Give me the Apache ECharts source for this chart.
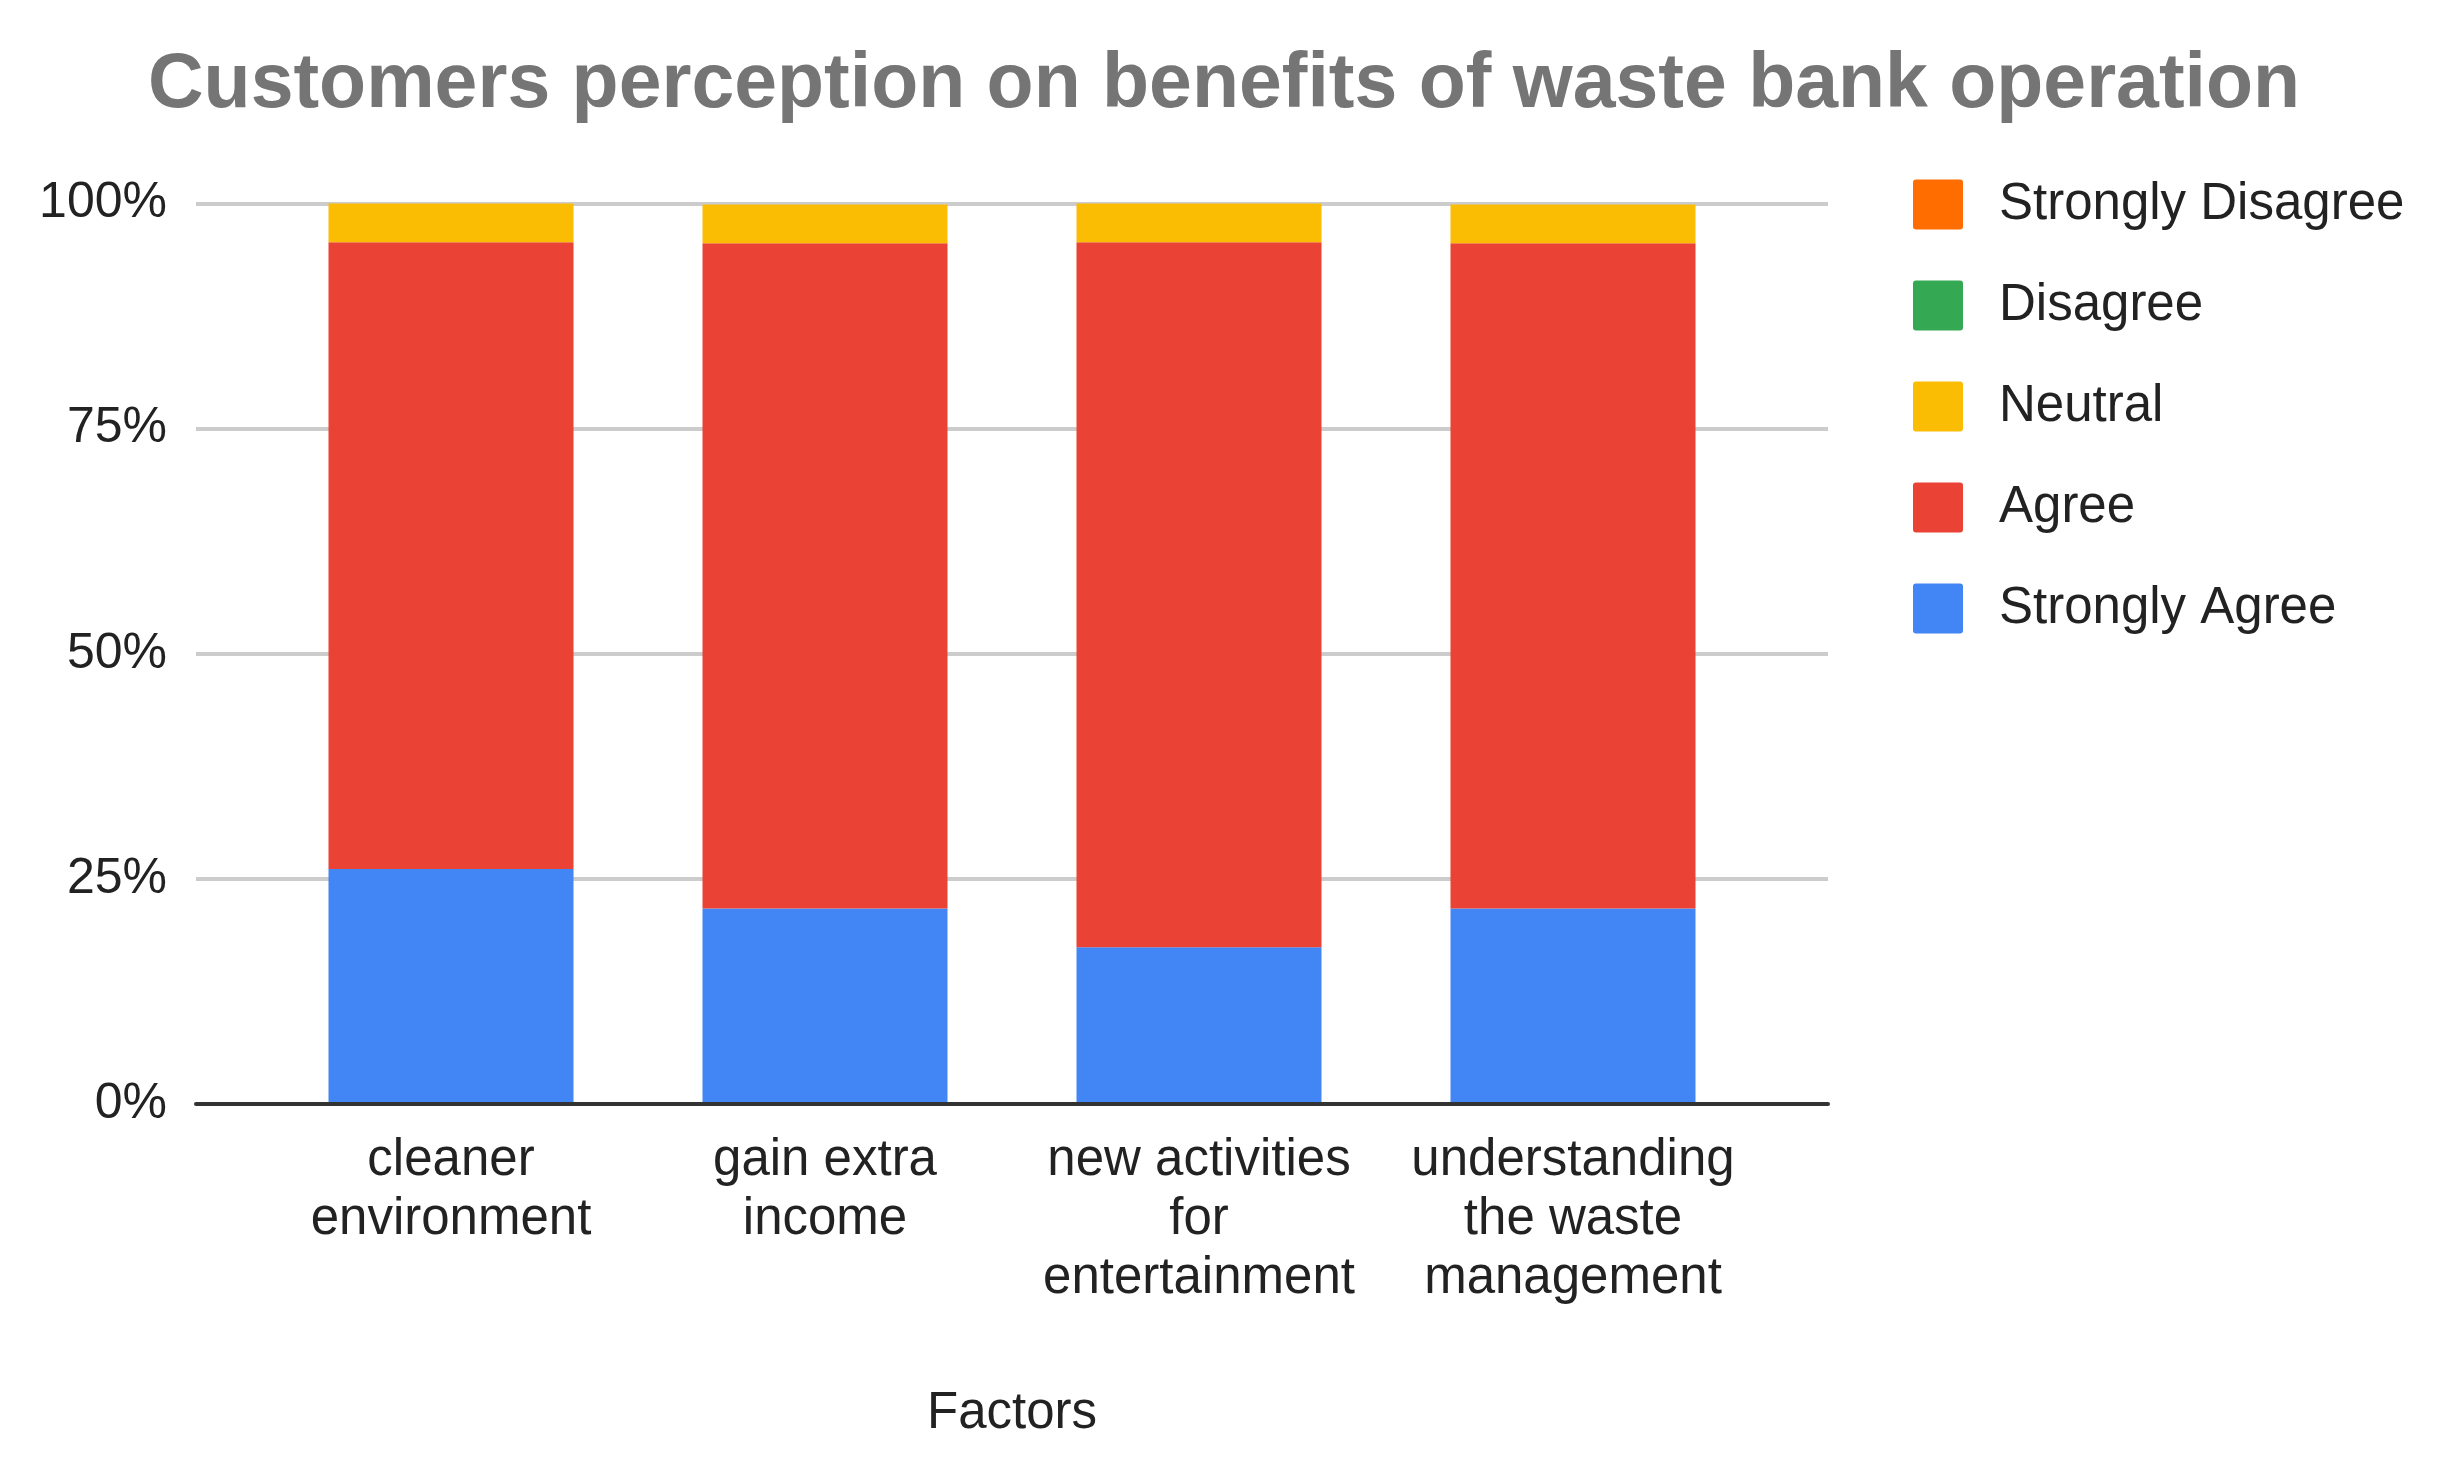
<!DOCTYPE html>
<html>
<head>
<meta charset="utf-8">
<script src="https://cdn.jsdelivr.net/npm/echarts@6/dist/echarts.min.js"></script>
<style>
html,body{margin:0;padding:0;background:#fff;}
#chart{width:2441px;height:1464px;}
</style>
</head>
<body>
<div id="chart"></div>
<script>
const titleText = 'Customers perception on benefits of waste bank operation';
const categories = ['cleaner\nenvironment', 'gain extra\nincome', 'new activities\nfor\nentertainment', 'understanding\nthe waste\nmanagement'];
const axisName = 'Factors';
const yTicks = [0, 25, 50, 75, 100];
// percentages
const stronglyAgree    = [26.1, 21.7, 17.4, 21.7];
const agree            = [69.6, 73.9, 78.3, 73.9];
const neutral          = [4.3, 4.3, 4.3, 4.3];
const disagree         = [0, 0, 0, 0];
const stronglyDisagree = [0, 0, 0, 0];

const seriesNames = ['Strongly Agree', 'Agree', 'Neutral', 'Disagree', 'Strongly Disagree'];
const seriesValues = [stronglyAgree, agree, neutral, disagree, stronglyDisagree];
const colors = ['#4285F4', '#EA4335', '#FBBC04', '#34A853', '#FF6D01'];
const legendOrder = ['Strongly Disagree', 'Disagree', 'Neutral', 'Agree', 'Strongly Agree'];

const FONT = "'Liberation Sans', Arial, sans-serif";
const chart = echarts.init(document.getElementById('chart'), null, {renderer: 'canvas'});

const option = {
  animation: false,
  backgroundColor: '#ffffff',
  title: {
    text: titleText,
    left: 148,
    top: 47,
    padding: 0,
    textStyle: {fontFamily: FONT, fontSize: 77, fontWeight: 'bold', color: '#757575'}
  },
  legend: {
    orient: 'vertical',
    left: 1913,
    top: 179,
    padding: 0,
    itemWidth: 50,
    itemHeight: 50,
    itemGap: 50,
    icon: 'path://M3,0 H47 Q50,0 50,3 V47 Q50,50 47,50 H3 Q0,50 0,47 V3 Q0,0 3,0 Z',
    data: legendOrder,
    textStyle: {fontFamily: FONT, fontSize: 51, color: '#222222', padding: [0, 0, 0, 31]}
  },
  grid: [
    {left: 196, right: 613, top: 203.6, bottom: 360, containLabel: false},
    {left: 264, right: 681, top: 203.6, bottom: 360, containLabel: false}
  ],
  xAxis: [
    {
      type: 'category', gridIndex: 0, data: [''], z: 10,
      axisLine: {show: true, lineStyle: {color: '#333333', width: 4}},
      axisTick: {show: false}, axisLabel: {show: false}, splitLine: {show: false},
      name: axisName, nameLocation: 'middle', nameGap: 284,
      nameTextStyle: {fontFamily: FONT, fontSize: 51, color: '#222222'}
    },
    {
      type: 'category', gridIndex: 1, data: categories,
      axisLine: {show: false}, axisTick: {show: false}, splitLine: {show: false},
      axisLabel: {fontFamily: FONT, fontSize: 51, color: '#222222', lineHeight: 59, margin: 27, interval: 0}
    }
  ],
  yAxis: [
    {
      type: 'value', gridIndex: 0, min: yTicks[0], max: yTicks[yTicks.length - 1], interval: 25,
      axisLine: {show: false}, axisTick: {show: false},
      axisLabel: {fontFamily: FONT, fontSize: 50, color: '#222222', margin: 29, formatter: '{value}%'},
      splitLine: {show: true, lineStyle: {color: '#cccccc', width: 4}}
    },
    {
      type: 'value', gridIndex: 1, min: 0, max: 100, interval: 25,
      axisLine: {show: false}, axisTick: {show: false}, axisLabel: {show: false}, splitLine: {show: false}
    }
  ],
  series: seriesNames.map((name, i) => ({
    name: name,
    type: 'bar',
    stack: 'total',
    xAxisIndex: 1,
    yAxisIndex: 1,
    barWidth: 245,
    data: seriesValues[i],
    itemStyle: {color: colors[i]}
  }))
};
chart.setOption(option);
</script>
</body>
</html>
